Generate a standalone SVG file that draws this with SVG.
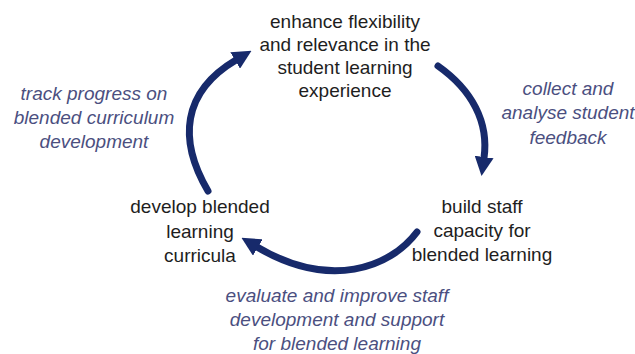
<svg xmlns="http://www.w3.org/2000/svg" width="635" height="354" viewBox="0 0 635 354">
  <style>
    .node { font-family: "Liberation Sans", Arial, sans-serif; font-size: 19px; fill: #1e1e1e; text-anchor: middle; }
    .lbl { font-family: "Liberation Sans", Arial, sans-serif; font-size: 19px; font-style: italic; fill: #4b4f7f; text-anchor: middle; }
    .arc { fill: none; stroke: #172a6b; stroke-width: 7; stroke-linecap: round; }
  </style>
  <defs>
    <marker id="head" viewBox="0 0 10 10" refX="0.5" refY="5" markerUnits="userSpaceOnUse" markerWidth="19" markerHeight="19" orient="auto">
      <path d="M0,0 L10,5 L0,10 z" fill="#172a6b"/>
    </marker>
  </defs>
  <rect width="635" height="354" fill="#ffffff"/>

  <g id="connectors">
    <path class="arc" d="M438,66 C472,90 489,122 484,158" marker-end="url(#head)"/>
    <path class="arc" d="M417,232 C390,268 330,290 257,247" marker-end="url(#head)"/>
    <path class="arc" d="M208,191 C178,140 182,92 236,60" marker-end="url(#head)"/>
  </g>

  <g id="node-enhance">
    <text class="node" x="345" y="28">enhance flexibility</text>
    <text class="node" x="345" y="51">and relevance in the</text>
    <text class="node" x="345" y="74">student learning</text>
    <text class="node" x="345" y="97">experience</text>
  </g>

  <g id="node-build">
    <text class="node" x="482" y="213">build staff</text>
    <text class="node" x="482" y="237">capacity for</text>
    <text class="node" x="482" y="261">blended learning</text>
  </g>

  <g id="node-develop">
    <text class="node" x="200" y="213">develop blended</text>
    <text class="node" x="200" y="238">learning</text>
    <text class="node" x="200" y="262">curricula</text>
  </g>

  <g id="label-collect">
    <text class="lbl" x="568" y="95">collect and</text>
    <text class="lbl" x="568" y="119">analyse student</text>
    <text class="lbl" x="568" y="144">feedback</text>
  </g>

  <g id="label-evaluate">
    <text class="lbl" x="337" y="302">evaluate and improve staff</text>
    <text class="lbl" x="337" y="326">development and support</text>
    <text class="lbl" x="337" y="350">for blended learning</text>
  </g>

  <g id="label-track">
    <text class="lbl" x="94" y="100">track progress on</text>
    <text class="lbl" x="94" y="124">blended curriculum</text>
    <text class="lbl" x="94" y="148">development</text>
  </g>
</svg>
